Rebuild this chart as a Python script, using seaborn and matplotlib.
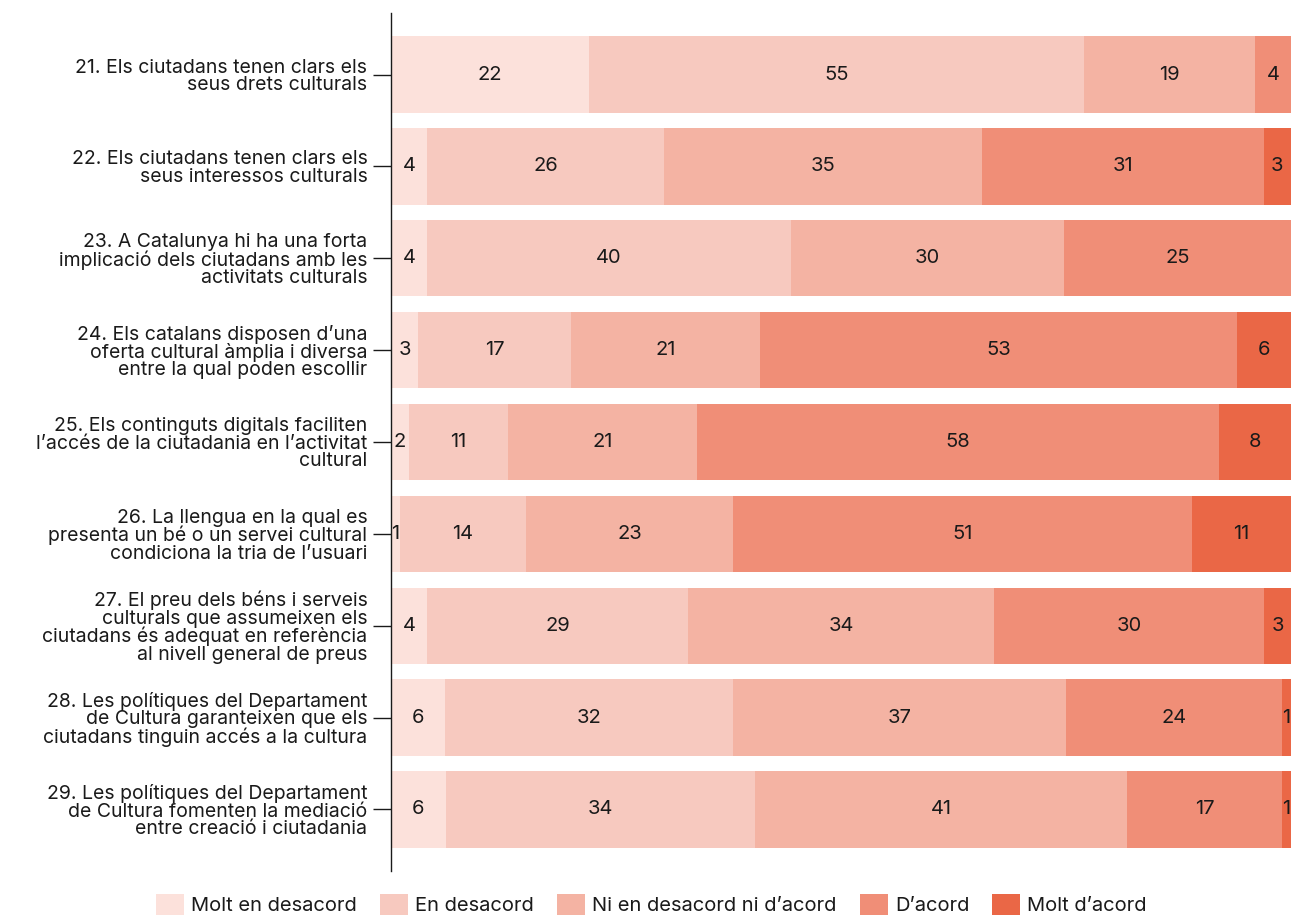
import numpy as np
import pandas as pd
import seaborn as sns
import matplotlib.pyplot as plt
from matplotlib.patches import Patch

# Data
questions = [
    "21. Els ciutadans tenen clars els\nseus drets culturals",
    "22. Els ciutadans tenen clars els\nseus interessos culturals",
    "23. A Catalunya hi ha una forta\nimplicació dels ciutadans amb les\nactivitats culturals",
    "24. Els catalans disposen d\u2019una\noferta cultural àmplia i diversa\nentre la qual poden escollir",
    "25. Els continguts digitals faciliten\nl\u2019accés de la ciutadania en l\u2019activitat\ncultural",
    "26. La llengua en la qual es\npresenta un bé o un servei cultural\ncondiciona la tria de l\u2019usuari",
    "27. El preu dels béns i serveis\nculturals que assumeixen els\nciutadans és adequat en referència\nal nivell general de preus",
    "28. Les polítiques del Departament\nde Cultura garanteixen que els\nciutadans tinguin accés a la cultura",
    "29. Les polítiques del Departament\nde Cultura fomenten la mediació\nentre creació i ciutadania",
]
categories = ["Molt en desacord", "En desacord", "Ni en desacord ni d\u2019acord",
              "D\u2019acord", "Molt d\u2019acord"]
molt_desacord = [22, 4, 4, 3, 2, 1, 4, 6, 6]
desacord = [55, 26, 40, 17, 11, 14, 29, 32, 34]
neutral = [19, 35, 30, 21, 21, 23, 34, 37, 41]
acord = [4, 31, 25, 53, 58, 51, 30, 24, 17]
molt_acord = [0, 3, 0, 6, 8, 11, 3, 1, 1]
colors = ["#FCE1DB", "#F7C9BF", "#F4B3A3", "#F08E77", "#EA6746"]

df = pd.DataFrame({c: v for c, v in zip(categories,
                   [molt_desacord, desacord, neutral, acord, molt_acord])})
df["question"] = questions

vals = df[categories].to_numpy(dtype=float)
# scale each row so the bar fills 100%
scaled = vals / vals.sum(axis=1, keepdims=True) * 100
cum = np.cumsum(scaled, axis=1)

sns.set_style("white")
plt.rcParams["font.family"] = ["Inter", "DejaVu Sans"]
text_color = "#1a1a1a"
fs = 14.5

fig = plt.figure(figsize=(12.93, 9.18), dpi=100)
ax = fig.add_axes([391 / 1293, 1 - 871 / 918, 900 / 1293, 858 / 918])

# stacked bars: draw cumulative totals from largest to smallest
for i in range(len(categories) - 1, -1, -1):
    sns.barplot(x=cum[:, i], y=df["question"], color=colors[i], width=0.83,
                saturation=1, orient="h", ax=ax, linewidth=0)

for r in range(len(questions)):
    for i in range(len(categories)):
        v = vals[r, i]
        if v > 0:
            ax.text(cum[r, i] - scaled[r, i] / 2, r, f"{int(v)}",
                    ha="center", va="center", fontsize=fs, color=text_color)

ax.set_xlim(0, 100)
ax.set_ylim(len(questions) - 1 + 0.67, -0.67)
ax.set_xlabel("")
ax.set_ylabel("")
ax.set_xticks([])
for s in ["top", "right", "bottom"]:
    ax.spines[s].set_visible(False)
ax.spines["left"].set_color(text_color)
ax.spines["left"].set_linewidth(1.0)
ax.tick_params(axis="y", left=True, length=13, width=1.0, color=text_color,
               pad=4, labelsize=14, labelcolor=text_color)
for lab in ax.get_yticklabels():
    lab.set_linespacing(0.95)
    lab.set_ha("right")
    lab.set_multialignment("right")

handles = [Patch(facecolor=c, edgecolor="none", label=l)
           for c, l in zip(colors, categories)]
fig.legend(handles=handles, loc="center", bbox_to_anchor=(0.504, 1 - 904.5 / 918),
           ncol=5, frameon=False, fontsize=fs, handlelength=1.39,
           handleheight=1.24, handletextpad=0.35, columnspacing=1.15,
           labelcolor=text_color)

fig.savefig("out.png", dpi=100)
